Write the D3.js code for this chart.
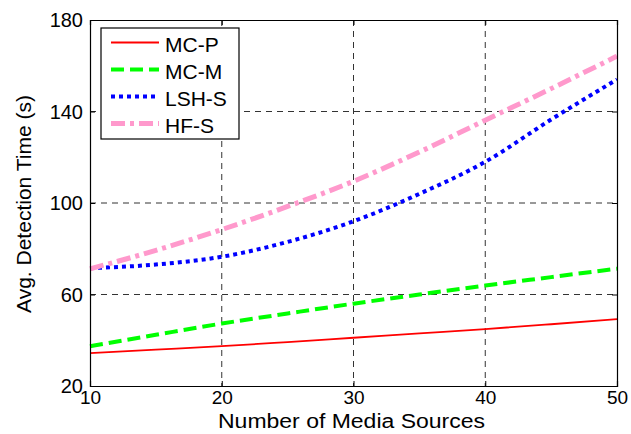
<!DOCTYPE html>
<html>
<head>
<meta charset="utf-8">
<script src="https://cdn.jsdelivr.net/npm/d3@7"></script>
<style>
    body { margin: 0; background: #fff; }
    text { font-family: "Liberation Sans", Arial, sans-serif; }
</style>
</head>
<body>
<svg id="chart" width="631" height="434"></svg>
<script>
const xValues = [10, 15, 20, 25, 30, 35, 40, 45, 50];
const mcP = [34.4, 35.9, 37.4, 39.2, 41.1, 43.0, 44.9, 47.0, 49.2];
const mcM = [37.4, 42.4, 47.3, 51.7, 56.0, 60.0, 63.9, 67.6, 71.3];
const lshS = [71.5, 73.1, 76.5, 83.0, 92.0, 104.0, 118.0, 136.5, 154.0];
const hfS = [71.2, 79.3, 88.4, 98.5, 109.5, 122.3, 136.2, 150.0, 164.2];
const seriesNames = ["MC-P", "MC-M", "LSH-S", "HF-S"];
const xTicks = [10, 20, 30, 40, 50];
const yTicks = [20, 60, 100, 140, 180];

const styles = [
    {color: "#ff0000", width: 1.8, dash: null},
    {color: "#00ff00", width: 4, dash: "13,6"},
    {color: "#0000ff", width: 4, dash: "4,4"},
    {color: "#ff99cc", width: 5, dash: "14,5,4,5"},
];

const margin = {left: 90, top: 20, right: 14, bottom: 48};
const width = 631 - margin.left - margin.right;
const height = 434 - margin.top - margin.bottom;

const x = d3.scaleLinear().domain([10, 50]).range([0, width]);
const y = d3.scaleLinear().domain([20, 180]).range([height, 0]);

const svg = d3.select("#chart")
    .append("g")
    .attr("transform", `translate(${margin.left}, ${margin.top})`);

// grid
svg.append("g")
    .selectAll("line")
    .data(xTicks.slice(1, -1))
    .enter()
    .append("line")
    .attr("x1", d => x(d)).attr("x2", d => x(d))
    .attr("y1", 0).attr("y2", height)
    .attr("stroke", "#333").attr("stroke-width", 1)
    .attr("stroke-dasharray", "6,5");
svg.append("g")
    .selectAll("line")
    .data(yTicks.slice(1, -1))
    .enter()
    .append("line")
    .attr("x1", 0).attr("x2", width)
    .attr("y1", d => y(d)).attr("y2", d => y(d))
    .attr("stroke", "#333").attr("stroke-width", 1)
    .attr("stroke-dasharray", "6,5");

// lines
const data = [mcP, mcM, lshS, hfS];
const line = d3.line()
    .x((d, i) => x(xValues[i]))
    .y(d => y(d))
    .curve(d3.curveMonotoneX);

data.forEach(function (values, i) {
    svg.append("path")
        .datum(values)
        .attr("d", line)
        .attr("fill", "none")
        .attr("stroke", styles[i].color)
        .attr("stroke-width", styles[i].width)
        .attr("stroke-dasharray", styles[i].dash);
});

// axes (ticks inside, mirrored on top/right)
const xAxis = svg.append("g")
    .attr("transform", `translate(0, ${height})`)
    .call(d3.axisBottom(x).tickValues(xTicks).tickSize(-5).tickPadding(5));
const yAxis = svg.append("g")
    .call(d3.axisLeft(y).tickValues(yTicks).tickSize(-5).tickPadding(7));
svg.append("g")
    .call(d3.axisTop(x).tickValues(xTicks).tickSize(-5).tickFormat(""));
svg.append("g")
    .attr("transform", `translate(${width}, 0)`)
    .call(d3.axisRight(y).tickValues(yTicks).tickSize(-5).tickFormat(""));

svg.selectAll(".domain").attr("stroke", "#000").attr("stroke-width", 1.2);
svg.selectAll(".tick line").attr("stroke", "#000");
xAxis.selectAll("text").style("font-size", "19px").attr("fill", "#000");
yAxis.selectAll("text").style("font-size", "20px").attr("fill", "#000").attr("dy", "0.34em");

// axis labels
svg.append("text")
    .attr("x", 351.5 - margin.left)
    .attr("y", 427.5 - margin.top)
    .style("text-anchor", "middle")
    .style("font-size", "19.5px")
    .attr("textLength", 267)
    .attr("lengthAdjust", "spacingAndGlyphs")
    .text("Number of Media Sources");

svg.append("text")
    .attr("transform", `translate(${31 - margin.left}, ${204 - margin.top}) rotate(-90)`)
    .style("text-anchor", "middle")
    .style("font-size", "21px")
    .attr("textLength", 218)
    .attr("lengthAdjust", "spacingAndGlyphs")
    .text("Avg. Detection Time (s)");

// legend
const legend = svg.append("g").attr("transform", "translate(11, 8)");
legend.append("rect")
    .attr("width", 138).attr("height", 111)
    .attr("fill", "#fff").attr("stroke", "#000").attr("stroke-width", 1.2);
seriesNames.forEach(function (name, i) {
    const cy = 14.5 + 27 * i;
    legend.append("line")
        .attr("x1", 10).attr("x2", 58)
        .attr("y1", cy).attr("y2", cy)
        .attr("stroke", styles[i].color)
        .attr("stroke-width", styles[i].width)
        .attr("stroke-dasharray", styles[i].dash);
    legend.append("text")
        .attr("x", 64)
        .attr("y", cy + 1.5)
        .attr("dy", "0.36em")
        .style("font-size", "21px")
        .text(name);
});
</script>
</body>
</html>
